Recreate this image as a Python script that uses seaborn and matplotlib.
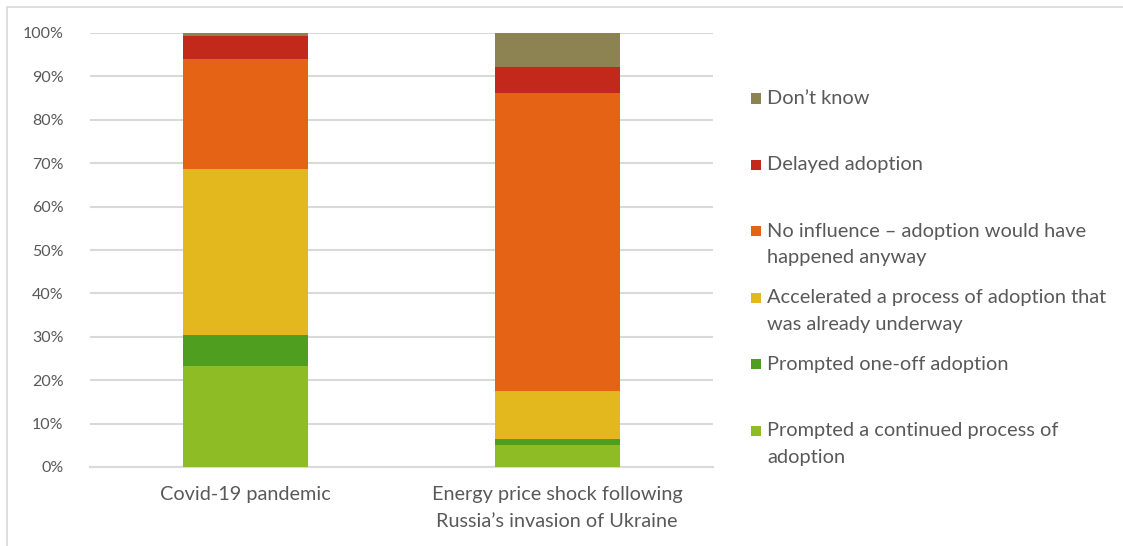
import numpy as np
import pandas as pd
import matplotlib
matplotlib.use("Agg")
import matplotlib.pyplot as plt
from matplotlib.patches import Rectangle
from matplotlib.ticker import PercentFormatter
import seaborn as sns

# Survey shares (percent of respondents) for each event
events = ["Covid-19 pandemic",
          "Energy price shock following\nRussia\u2019s invasion of Ukraine"]
responses = ["Prompted a continued process of\nadoption",
             "Prompted one-off adoption",
             "Accelerated a process of adoption that\nwas already underway",
             "No influence \u2013 adoption would have\nhappened anyway",
             "Delayed adoption",
             "Don\u2019t know"]
continued = [23.3, 5.1]
one_off = [7.0, 1.3]
accelerated = [38.4, 11.1]
no_influence = [25.2, 68.6]
delayed = [5.4, 6.1]
dont_know = [0.7, 7.8]

colors = ["#8DBC24", "#509E20", "#E3B71E", "#E56314", "#C3291A", "#8C8252"]
series = [continued, one_off, accelerated, no_influence, delayed, dont_know]

sns.set_theme(style="white")
plt.rcParams["font.family"] = ["Lato", "DejaVu Sans"]
text_color = "#595959"
grid_color = "#D9D9D9"

fig = plt.figure(figsize=(11.23, 5.46), dpi=100)
W, H = 1123, 546
ax = fig.add_axes([90 / W, 79 / H, 623 / W, 434 / H])

# Stacked bars: draw cumulative totals from the top segment down
df = pd.DataFrame({"event": events})
cum = np.cumsum(np.array(series), axis=0)
for k in range(len(series) - 1, -1, -1):
    df["value"] = cum[k]
    sns.barplot(data=df, x="event", y="value", order=events, color=colors[k],
                saturation=1, width=0.4, linewidth=0, ax=ax, zorder=3)

ax.set_xlim(-0.5, 1.5)
ax.set_ylim(0, 100)
ax.set_yticks(np.arange(0, 101, 10))
ax.yaxis.set_major_formatter(PercentFormatter(decimals=0))
ax.grid(axis="y", color=grid_color, linewidth=1.5, zorder=0)
ax.set_axisbelow(True)
for side in ["top", "right", "left"]:
    ax.spines[side].set_visible(False)
ax.spines["bottom"].set_color(grid_color)
ax.spines["bottom"].set_linewidth(1.5)
ax.set_xlabel("")
ax.set_ylabel("")
ax.tick_params(axis="y", length=0, pad=19, labelsize=11.5, labelcolor=text_color)
ax.tick_params(axis="x", length=0, pad=14, labelsize=14.3, labelcolor=text_color)
for lbl in ax.get_xticklabels():
    lbl.set_linespacing(1.7)

# Legend, top entry first, handles aligned with the first line of text
step, line_gap = 66.4, 26.5
for i, k in enumerate(range(len(series) - 1, -1, -1)):
    y0 = 98.5 + step * i
    fig.add_artist(Rectangle((751 / W, 1 - (y0 + 5) / H), 10 / W, 10 / H,
                             transform=fig.transFigure, color=colors[k], lw=0))
    for j, line in enumerate(responses[k].split("\n")):
        fig.text(767 / W, 1 - (y0 + line_gap * j) / H, line, ha="left",
                 va="center", fontsize=14.4, color=text_color)

# Thin frame around the chart area
fig.add_artist(Rectangle((7 / W, -0.1), 1.2, 1 - 7 / H + 0.1,
                         transform=fig.transFigure, fill=False,
                         edgecolor=grid_color, lw=1.2))

fig.savefig("out.png", dpi=100)
